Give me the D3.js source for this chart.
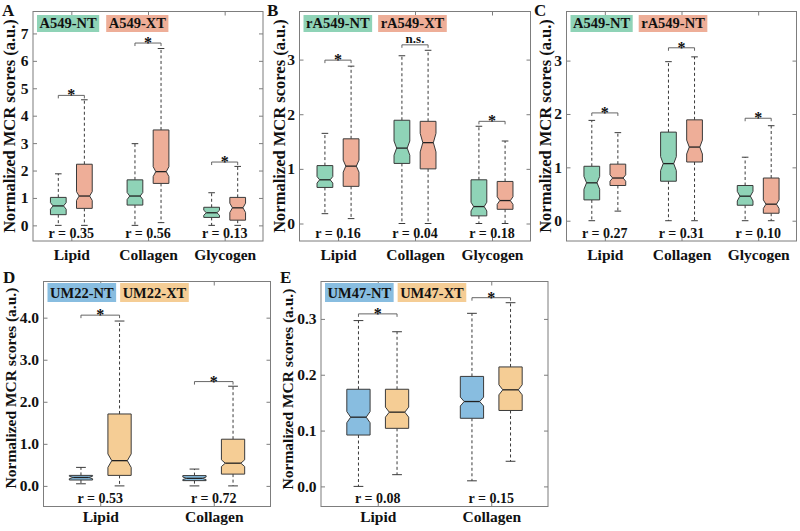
<!DOCTYPE html>
<html><head><meta charset="utf-8">
<script src="https://cdn.jsdelivr.net/npm/d3@7"></script>
<style>body{margin:0;background:#fff} text{font-family:"Liberation Serif","Times New Roman",serif;font-weight:bold}</style>
</head><body>
<svg id="chart" width="800" height="531"></svg>
<script>
// ---------------- DATA ----------------
const categories3 = ["Lipid", "Collagen", "Glycogen"];
const categories2 = ["Lipid", "Collagen"];
// five-number summaries per category: [min, q1, median, q3, max]
const A549_NT   = [[0, 0.39, 0.71, 1.02, 1.88], [0, 0.74, 1.07, 1.66, 2.98], [0, 0.29, 0.46, 0.66, 1.19]];
const A549_NT_notch = [0.12, 0.13, 0.09];
const A549_XT   = [[0, 0.62, 1.07, 2.23, 4.58], [0.1, 1.53, 1.96, 3.48, 6.45], [0, 0.19, 0.64, 1.02, 2.15]];
const A549_XT_notch = [0.16, 0.18, 0.17];
const rA549_NT  = [[0.18, 0.66, 0.80, 1.06, 1.65], [0, 1.10, 1.38, 1.89, 3.07], [0, 0.14, 0.31, 0.80, 1.78]];
const rA549_NT_notch = [0.06, 0.13, 0.08];
const rA549_XT  = [[0.09, 0.68, 1.05, 1.55, 2.88], [0, 1.00, 1.48, 1.87, 3.17], [0, 0.26, 0.42, 0.77, 1.51]];
const rA549_XT_notch = [0.11, 0.17, 0.07];
const UM22_NT   = [[0.05, 0.14, 0.20, 0.25, 0.44], [0, 0.125, 0.18, 0.245, 0.40]];
const UM22_NT_notch = [0.03, 0.03];
const UM22_XT   = [[0, 0.25, 0.60, 1.71, 3.92], [0, 0.28, 0.54, 1.11, 2.37]];
const UM22_XT_notch = [0.16, 0.08];
const UM47_NT   = [[0, 0.092, 0.124, 0.174, 0.297], [0.010, 0.122, 0.152, 0.197, 0.310]];
const UM47_NT_notch = [0.010, 0.008];
const UM47_XT   = [[0.021, 0.104, 0.133, 0.174, 0.277], [0.045, 0.136, 0.173, 0.214, 0.329]];
const UM47_XT_notch = [0.009, 0.009];
// correlation labels
const rA = ["0.35", "0.56", "0.13"];
const rB = ["0.16", "0.04", "0.18"];
const rC = ["0.27", "0.31", "0.10"];
const rD = ["0.53", "0.72"];
const rE = ["0.08", "0.15"];
// significance marks and bracket heights (data units)
const sigA = ["*", "*", "*"],   bracketA = [4.74, 6.65, 2.31];
const sigB = ["*", "n.s.", "*"], bracketB = [2.99, 3.27, 1.87];
const sigC = ["*", "*", "*"],   bracketC = [2.02, 3.24, 1.92];
const sigD = ["*", "*"],        bracketD = [4.06, 2.48];
const sigE = ["*", "*"],        bracketE = [0.309, 0.338];
// y ticks
const ticksA = [0, 1, 2, 3, 4, 5, 6, 7];
const ticksBC = [0, 1, 2, 3];
const ticksD = [0, 1, 2, 3, 4];
const ticksE = [0, 0.1, 0.2, 0.3];

// ---------------- STYLE ----------------
const TEAL = "#8fd3b7", SALMON = "#eeae98", BLUE = "#88bde0", ORANGE = "#f5cd95";
const svg = d3.select("#chart");

const panels = [
  {label: "A", cats: categories3, g1: A549_NT, n1: A549_NT_notch, g2: A549_XT, n2: A549_XT_notch,
   names: ["A549-NT", "A549-XT"], colors: [TEAL, SALMON], r: rA, sig: sigA, br: bracketA, ticks: ticksA, fmt: d3.format("d"),
   box: [33, 263, 11.5, 241], yd: [-0.57, 7.8], ylab: [9, 126, 16.5], catY: 260, legGap: 7, lab: [2, 16]},
  {label: "B", cats: categories3, g1: rA549_NT, n1: rA549_NT_notch, g2: rA549_XT, n2: rA549_XT_notch,
   names: ["rA549-NT", "rA549-XT"], colors: [TEAL, SALMON], r: rB, sig: sigB, br: bracketB, ticks: ticksBC, fmt: d3.format("d"),
   box: [299.5, 530.5, 11.5, 241], yd: [-0.32, 3.88], ylab: [279, 126, 16.5], catY: 260, legGap: 6, lab: [267, 16]},
  {label: "C", cats: categories3, g1: A549_NT, n1: A549_NT_notch, g2: rA549_NT, n2: rA549_NT_notch,
   names: ["A549-NT", "rA549-NT"], colors: [TEAL, SALMON], r: rC, sig: sigC, br: bracketC, ticks: ticksBC, fmt: d3.format("d"),
   box: [566.5, 796.5, 11.5, 241], yd: [-0.38, 3.92], ylab: [545, 126, 16.5], catY: 260, legGap: 6, lab: [534, 16]},
  {label: "D", cats: categories2, g1: UM22_NT, n1: UM22_NT_notch, g2: UM22_XT, n2: UM22_XT_notch,
   names: ["UM22-NT", "UM22-XT"], colors: [BLUE, ORANGE], r: rD, sig: sigD, br: bracketD, ticks: ticksD, fmt: d3.format(".1f"),
   box: [43.5, 270.5, 281.5, 506.5], yd: [-0.49, 4.86], ylab: [10, 388, 15.5], catY: 522, legGap: 4, lab: [3, 283]},
  {label: "E", cats: categories2, g1: UM47_NT, n1: UM47_NT_notch, g2: UM47_XT, n2: UM47_XT_notch,
   names: ["UM47-NT", "UM47-XT"], colors: [BLUE, ORANGE], r: rE, sig: sigE, br: bracketE, ticks: ticksE, fmt: d3.format(".1f"),
   box: [321, 548, 281.5, 506.5], yd: [-0.036, 0.367], ylab: [287, 389, 15.5], catY: 522, legGap: 4, lab: [280, 283]}
];

const AXC = "#7d7d7d", EDGE = "#3a3a3a";

panels.forEach(p => {
  const [L, R, T, B] = p.box;
  const n = p.cats.length;
  const x = d3.scaleLinear().domain([0.5, n + 0.5]).range([L, R]);
  const y = d3.scaleLinear().domain(p.yd).range([B, T]);
  const g = svg.append("g");
  const unit = x(1) - x(0);
  const off = 0.17 * unit, bw = 0.205 * unit, capW = 0.42 * bw;

  g.append("rect").attr("x", L).attr("y", T).attr("width", R - L).attr("height", B - T)
    .attr("fill", "none").attr("stroke", AXC).attr("stroke-width", 1);

  const ax = g.append("g").attr("transform", `translate(${L},0)`)
    .call(d3.axisLeft(y).tickValues(p.ticks).tickFormat(p.fmt).tickSize(-4).tickPadding(4.5));
  const axR = g.append("g").attr("transform", `translate(${R},0)`)
    .call(d3.axisRight(y).tickValues(p.ticks).tickFormat("").tickSize(-4));
  const axT = g.append("g").attr("transform", `translate(0,${T})`)
    .call(d3.axisTop(x).tickValues(d3.range(1, n + 1)).tickFormat("").tickSize(-4));
  const axB = g.append("g").attr("transform", `translate(0,${B})`)
    .call(d3.axisBottom(x).tickValues(d3.range(1, n + 1)).tickFormat(i => p.cats[i - 1]).tickSize(-4).tickPadding(0));
  [ax, axR, axT, axB].forEach(a => {
    a.select(".domain").remove();
    a.selectAll(".tick line").attr("stroke", AXC);
    a.selectAll("text").attr("fill", "#111").style("font-family", '"Liberation Serif",serif').style("font-weight", "bold");
  });
  ax.selectAll("text").style("font-size", "15.5px");
  axB.selectAll("text").style("font-size", "15.5px").attr("dy", null).attr("y", p.catY - B);

  g.append("text").attr("transform", `translate(${p.ylab[0]},${p.ylab[1]}) rotate(-90)`)
    .attr("text-anchor", "middle").attr("dominant-baseline", "central")
    .style("font-size", p.ylab[2] + "px").attr("fill", "#111").text("Normalized MCR scores (a.u.)");

  g.append("text").attr("x", p.lab[0]).attr("y", p.lab[1])
    .style("font-size", "17px").attr("fill", "#111").text(p.label);

  function drawBox(stats, notch, cx, color) {
    const [mn, q1, md, q3, mx] = stats;
    const xl = cx - bw / 2, xr = cx + bw / 2, ind = bw / 6;
    g.append("line").attr("x1", cx).attr("x2", cx).attr("y1", y(q3)).attr("y2", y(mx))
      .attr("stroke", EDGE).attr("stroke-dasharray", "3,2.5");
    g.append("line").attr("x1", cx).attr("x2", cx).attr("y1", y(q1)).attr("y2", y(mn))
      .attr("stroke", EDGE).attr("stroke-dasharray", "3,2.5");
    [mn, mx].forEach(v => g.append("line").attr("x1", cx - capW / 2).attr("x2", cx + capW / 2)
      .attr("y1", y(v)).attr("y2", y(v)).attr("stroke", EDGE));
    const pts = [[xl, y(q1)], [xl, y(md - notch)], [xl + ind, y(md)], [xl, y(md + notch)], [xl, y(q3)],
                 [xr, y(q3)], [xr, y(md + notch)], [xr - ind, y(md)], [xr, y(md - notch)], [xr, y(q1)]];
    g.append("path").attr("d", d3.line()(pts) + "Z").attr("fill", color).attr("stroke", EDGE).attr("stroke-width", 1);
    g.append("line").attr("x1", xl + ind).attr("x2", xr - ind).attr("y1", y(md)).attr("y2", y(md))
      .attr("stroke", "#222").attr("stroke-width", 1.3);
  }
  p.cats.forEach((c, i) => {
    const cx1 = x(i + 1) - off, cx2 = x(i + 1) + off;
    drawBox(p.g1[i], p.n1[i], cx1, p.colors[0]);
    drawBox(p.g2[i], p.n2[i], cx2, p.colors[1]);
    const by = y(p.br[i]);
    g.append("path").attr("d", `M${cx1},${by + 3}V${by}H${cx2}V${by + 3}`)
      .attr("fill", "none").attr("stroke", "#555").attr("stroke-width", 0.9);
    const isStar = p.sig[i] === "*";
    g.append("text").attr("x", (cx1 + cx2) / 2).attr("y", isStar ? by + 5 : by - 1.5)
      .attr("text-anchor", "middle").style("font-size", isStar ? "16px" : "13px").attr("fill", "#111").text(p.sig[i]);
    g.append("text").attr("x", x(i + 1)).attr("y", B - 3.5).attr("text-anchor", "middle")
      .style("font-size", "14px").attr("fill", "#111").text("r = " + p.r[i]);
  });

  let lx = L + 4;
  const ly = T > 100 ? T + 1.5 : T + 3.5, lh = T > 100 ? 19 : 17;
  p.names.forEach((nm, k) => {
    const rect = g.append("rect").attr("x", lx).attr("y", ly).attr("height", lh).attr("fill", p.colors[k]);
    const t = g.append("text").attr("x", lx + 2.5).attr("y", ly + lh - 4.2).style("font-size", "14.5px")
      .attr("fill", "#111").text(nm);
    const w = t.node().getComputedTextLength() + 5;
    rect.attr("width", w);
    lx += w + p.legGap;
  });
});
</script>
</body></html>
